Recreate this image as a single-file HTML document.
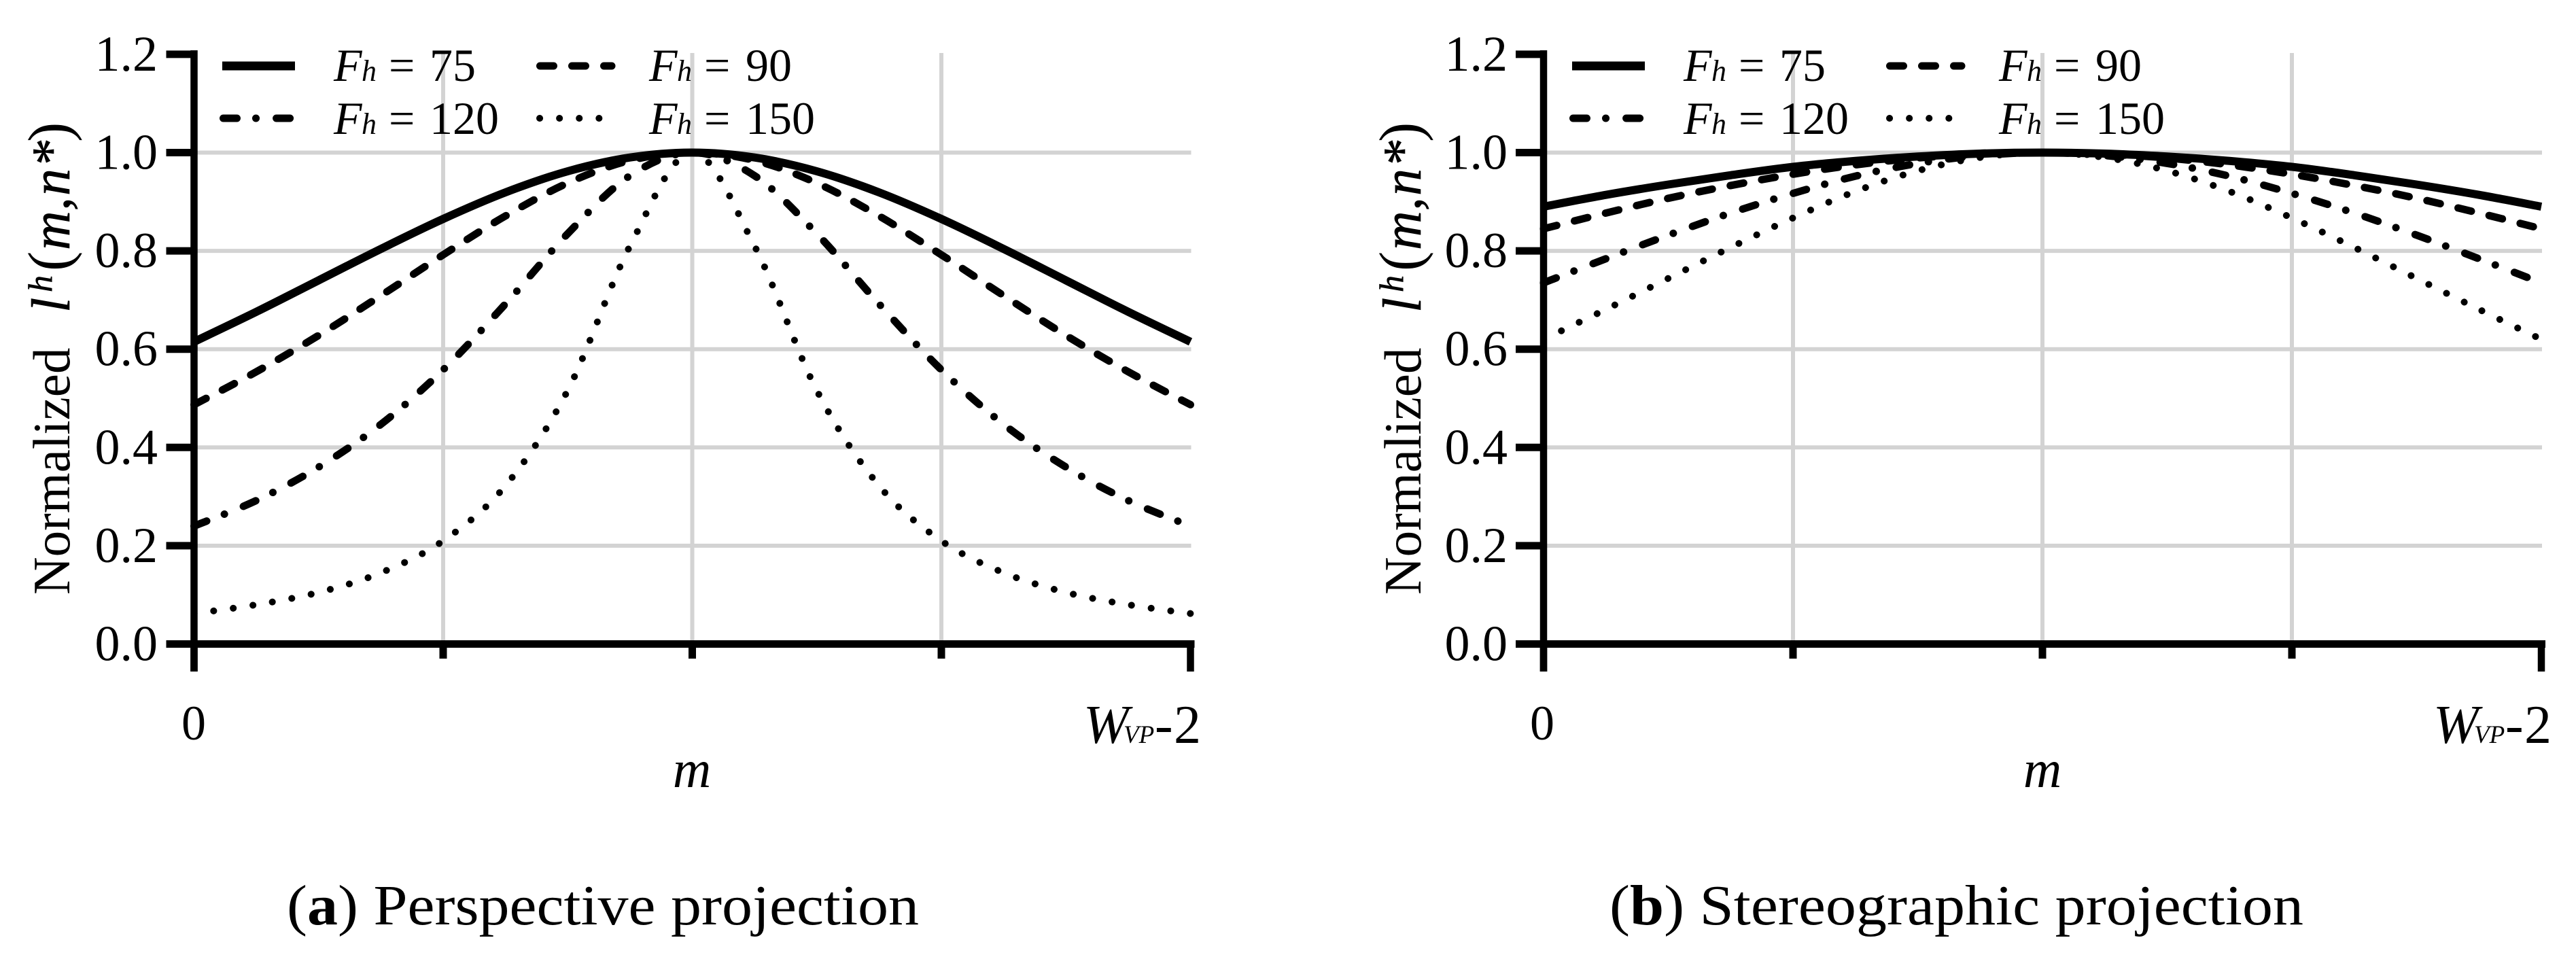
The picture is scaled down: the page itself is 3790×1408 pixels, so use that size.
<!DOCTYPE html>
<html lang="en">
<head>
<meta charset="utf-8">
<title>Normalized line density by projection</title>
<style>
html,body{margin:0;padding:0;background:#fff;}
svg{display:block;font-family:"Liberation Serif",serif;fill:#000;}
.i{font-style:italic;}
.sym{stroke:#000;stroke-width:0.6;}
</style>
</head>
<body>
<svg id="figure" xmlns="http://www.w3.org/2000/svg" width="3790" height="1408" viewBox="0 0 3790 1408">
  <rect x="0" y="0" width="3790" height="1408" fill="#fff"/>
  <g id="panel-a"></g>
  <g id="panel-b"></g>

  <g font-size="68">
    <text y="119"><tspan class="i" x="491">F</tspan><tspan class="i" x="532" font-size="44">h</tspan><tspan x="572">=</tspan><tspan x="632">75</tspan></text>
    <text y="119"><tspan class="i" x="955">F</tspan><tspan class="i" x="996" font-size="44">h</tspan><tspan x="1036">=</tspan><tspan x="1097">90</tspan></text>
    <text y="197"><tspan class="i" x="491">F</tspan><tspan class="i" x="532" font-size="44">h</tspan><tspan x="572">=</tspan><tspan x="632">120</tspan></text>
    <text y="197"><tspan class="i" x="955">F</tspan><tspan class="i" x="996" font-size="44">h</tspan><tspan x="1036">=</tspan><tspan x="1097">150</tspan></text>
  </g>
  <g font-size="68" transform="translate(1986,0)">
    <text y="119"><tspan class="i" x="491">F</tspan><tspan class="i" x="532" font-size="44">h</tspan><tspan x="572">=</tspan><tspan x="632">75</tspan></text>
    <text y="119"><tspan class="i" x="955">F</tspan><tspan class="i" x="996" font-size="44">h</tspan><tspan x="1036">=</tspan><tspan x="1097">90</tspan></text>
    <text y="197"><tspan class="i" x="491">F</tspan><tspan class="i" x="532" font-size="44">h</tspan><tspan x="572">=</tspan><tspan x="632">120</tspan></text>
    <text y="197"><tspan class="i" x="955">F</tspan><tspan class="i" x="996" font-size="44">h</tspan><tspan x="1036">=</tspan><tspan x="1097">150</tspan></text>
  </g>

  <g transform="translate(102,875) rotate(-90)">
    <text font-size="77" x="0" y="0">Normalized</text>
    <text class="i sym" font-size="80" y="0"><tspan x="415">l</tspan><tspan x="445" font-size="50" dy="-26">h</tspan><tspan x="507" dy="26">m</tspan><tspan x="565">,</tspan><tspan x="587">n</tspan><tspan x="632" font-style="normal">*</tspan></text>
    <text font-size="88" x="476" y="0">(</text>
    <text font-size="88" x="666" y="0">)</text>
  </g>
  <g transform="translate(2090,875) rotate(-90)">
    <text font-size="77" x="0" y="0">Normalized</text>
    <text class="i sym" font-size="80" y="0"><tspan x="415">l</tspan><tspan x="445" font-size="50" dy="-26">h</tspan><tspan x="507" dy="26">m</tspan><tspan x="565">,</tspan><tspan x="587">n</tspan><tspan x="632" font-style="normal">*</tspan></text>
    <text font-size="88" x="476" y="0">(</text>
    <text font-size="88" x="666" y="0">)</text>
  </g>

  <text font-size="72" x="285" y="1088" text-anchor="middle">0</text>
  <text font-size="72" x="2269" y="1088" text-anchor="middle">0</text>
  <text font-size="80" y="1093"><tspan class="i" x="1594">W</tspan><tspan class="i" x="1653" font-size="37">VP</tspan><tspan x="1699">-</tspan><tspan x="1727">2</tspan></text>
  <text font-size="80" y="1093"><tspan class="i" x="3580">W</tspan><tspan class="i" x="3640" font-size="37">VP</tspan><tspan x="3686">-</tspan><tspan x="3714">2</tspan></text>
  <text class="i" font-size="78" x="1018" y="1158" text-anchor="middle">m</text>
  <text class="i" font-size="78" x="3005" y="1158" text-anchor="middle">m</text>

  <text font-size="84" x="422" y="1360" textLength="930" lengthAdjust="spacingAndGlyphs">(<tspan font-weight="bold">a</tspan>) Perspective projection</text>
  <text font-size="84" x="2368" y="1360" textLength="1021" lengthAdjust="spacingAndGlyphs">(<tspan font-weight="bold">b</tspan>) Stereographic projection</text>
</svg>

<script>
// Horizontal positions of the samples along m (fraction of the axis)
const mSamples = [0, 0.0625, 0.125, 0.1875, 0.25, 0.3125, 0.375, 0.4375, 0.5, 0.5625, 0.625, 0.6875, 0.75, 0.8125, 0.875, 0.9375, 1];

// Perspective projection, values
const perspectiveF75  = [0.615, 0.676, 0.740, 0.804, 0.865, 0.919, 0.962, 0.990, 1, 0.990, 0.962, 0.919, 0.865, 0.804, 0.740, 0.676, 0.615];
const perspectiveF90  = [0.487, 0.554, 0.628, 0.709, 0.792, 0.871, 0.938, 0.984, 1, 0.984, 0.938, 0.871, 0.792, 0.709, 0.628, 0.554, 0.487];
const perspectiveF120 = [0.240, 0.292, 0.360, 0.447, 0.558, 0.692, 0.835, 0.953, 1, 0.953, 0.835, 0.692, 0.558, 0.447, 0.360, 0.292, 0.240];
const perspectiveF150 = [0.062, 0.080, 0.105, 0.145, 0.210, 0.322, 0.516, 0.810, 1, 0.810, 0.516, 0.322, 0.210, 0.145, 0.105, 0.080, 0.062];

// Stereographic projection, values
const stereoF75  = [0.890, 0.914, 0.935, 0.954, 0.971, 0.983, 0.992, 0.998, 1, 0.998, 0.992, 0.983, 0.971, 0.954, 0.935, 0.914, 0.890];
const stereoF90  = [0.845, 0.877, 0.907, 0.933, 0.956, 0.975, 0.989, 0.997, 1, 0.997, 0.989, 0.975, 0.956, 0.933, 0.907, 0.877, 0.845];
const stereoF120 = [0.735, 0.784, 0.832, 0.877, 0.917, 0.952, 0.978, 0.994, 1, 0.994, 0.978, 0.952, 0.917, 0.877, 0.832, 0.784, 0.735];
const stereoF150 = [0.620, 0.681, 0.744, 0.807, 0.867, 0.921, 0.963, 0.990, 1, 0.990, 0.963, 0.921, 0.867, 0.807, 0.744, 0.681, 0.620];

// Axis ticks
const yTickValues = [0, 0.2, 0.4, 0.6, 0.8, 1.0, 1.2];
const yTickLabels = ["0.0", "0.2", "0.4", "0.6", "0.8", "1.0", "1.2"];
const xTickValues = [0, 0.25, 0.5, 0.75, 1];

const SVG_NS = "http://www.w3.org/2000/svg";
const Y0 = 947.5;
const UNIT = 723;
const GRID = "#d3d3d3";

function yScale(v) { return Y0 - v * UNIT; }

function make(tag, parent) {
  const node = document.createElementNS(SVG_NS, tag);
  parent.appendChild(node);
  return node;
}
function setLine(node, x1, y1, x2, y2, color, width) {
  node.setAttribute("x1", x1);
  node.setAttribute("y1", y1);
  node.setAttribute("x2", x2);
  node.setAttribute("y2", y2);
  node.setAttribute("stroke", color);
  node.setAttribute("stroke-width", width);
}
function curvePath(values, xScale) {
  const pts = mSamples.map(function (m, i) { return [xScale(m), yScale(values[i])]; });
  let d = "M" + pts[0][0].toFixed(2) + " " + pts[0][1].toFixed(2);
  for (let i = 0; i < pts.length - 1; i++) {
    const p0 = pts[Math.max(0, i - 1)];
    const p1 = pts[i];
    const p2 = pts[i + 1];
    const p3 = pts[Math.min(pts.length - 1, i + 2)];
    const c1x = p1[0] + (p2[0] - p0[0]) / 6;
    const c1y = p1[1] + (p2[1] - p0[1]) / 6;
    const c2x = p2[0] - (p3[0] - p1[0]) / 6;
    const c2y = p2[1] - (p3[1] - p1[1]) / 6;
    d += "C" + c1x.toFixed(2) + " " + c1y.toFixed(2) + " " + c2x.toFixed(2) + " " + c2y.toFixed(2) + " " + p2[0].toFixed(2) + " " + p2[1].toFixed(2);
  }
  return d;
}

const lineStyles = [
  { width: 12, dash: "", cap: "butt" },
  { width: 11, dash: "20 27", cap: "round" },
  { width: 11, dash: "20 28 0.1 30", cap: "round" },
  { width: 10, dash: "0.1 29", cap: "round" }
];

function drawPanel(group, left, right, seriesList, tickRight, legendDx) {
  function xScale(m) { return left + m * (right - left); }

  // grid
  yTickValues.forEach(function (v) {
    if (v === 0 || v === 1.2) return;
    const g = make("line", group);
    
    
    setLine(g, left, yScale(v), right + 1, yScale(v), GRID, 6);
  });
  xTickValues.forEach(function (m) {
    if (m === 0 || m === 1) return;
    const g = make("line", group);
    
    
    setLine(g, xScale(m), 78, xScale(m), Y0, GRID, 6);
  });

  // series
  seriesList.forEach(function (values, idx) {
    const st = lineStyles[idx];
    const p = make("path", group);
    
    
    p.setAttribute("d", curvePath(values, xScale));
    p.setAttribute("fill", "none");
    p.setAttribute("stroke", "#000");
    p.setAttribute("stroke-width", st.width);
    p.setAttribute("stroke-linecap", st.cap);
    if (st.dash) p.setAttribute("stroke-dasharray", st.dash);
  });

  // legend swatches
  const swatches = [
    [327, 434, 97],
    [794.5, 900, 97],
    [328.5, 430, 174],
    [794, 886, 174]
  ];
  swatches.forEach(function (s, idx) {
    const st = lineStyles[idx];
    const l = make("line", group);
    
    
    setLine(l, s[0] + legendDx, s[2], s[1] + legendDx, s[2], "#000", idx === 0 ? 13 : st.width);
    l.setAttribute("stroke-linecap", st.cap);
    if (st.dash) l.setAttribute("stroke-dasharray", st.dash);
  });

  // axes
  const yAxis = make("line", group);
  
  
  setLine(yAxis, left, 74, left, 988, "#000", 10.5);

  const xAxis = make("line", group);
  
  
  setLine(xAxis, left - 41, Y0, right + 6, Y0, "#000", 11);

  yTickValues.forEach(function (v, i) {
    const t = make("line", group);
    
    
    setLine(t, left - 41, yScale(v), left, yScale(v), "#000", 11);

    const lab = make("text", group);
    
    
    lab.setAttribute("x", tickRight);
    lab.setAttribute("y", yScale(v) + 24);
    lab.setAttribute("font-size", "74");
    lab.setAttribute("text-anchor", "end");
    lab.textContent = yTickLabels[i];
  });

  xTickValues.forEach(function (m) {
    const t = make("line", group);
    
    
    const outer = (m === 0 || m === 1);
    setLine(t, xScale(m), Y0, xScale(m), outer ? 988 : 969, "#000", outer ? 10.5 : 11);
  });
}

drawPanel(document.getElementById("panel-a"), 285.5, 1751.5,
  [perspectiveF75, perspectiveF90, perspectiveF120, perspectiveF150], 232, 0);
drawPanel(document.getElementById("panel-b"), 2271, 3739,
  [stereoF75, stereoF90, stereoF120, stereoF150], 2218, 1986);
</script>
</body>
</html>
